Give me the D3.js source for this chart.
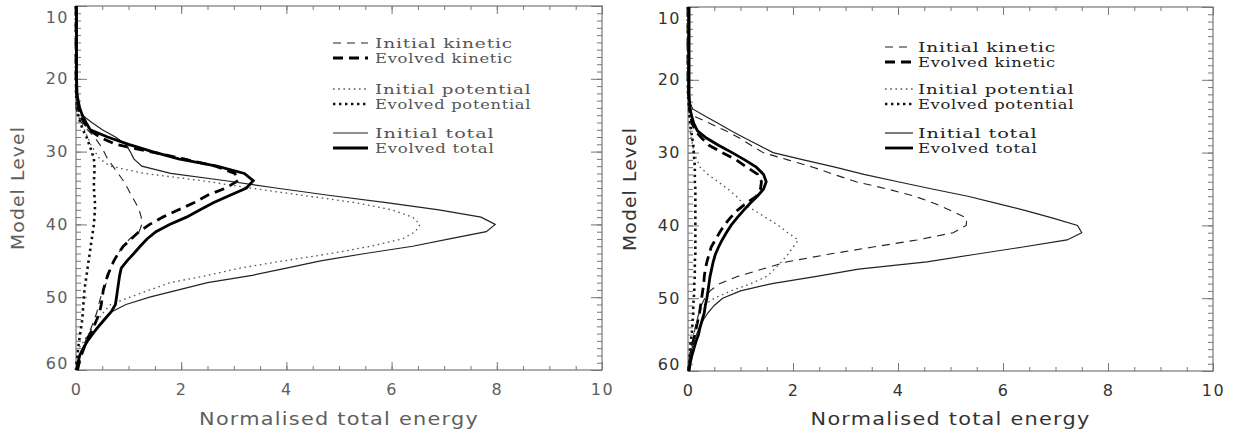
<!DOCTYPE html>
<meta charset="utf-8">
<title>Normalised total energy by model level</title>
<style>
    body { margin: 0; background: #fff; }
    svg { display: block; }
    .tick line { stroke: #777; }
    .axis path { display: none; }
</style>
<svg width="1239" height="435"></svg>
<script src="https://d3js.org/d3.v7.min.js"></script>
<script>

    // model levels (shared by every series)
    var levels = [10, 20, 22, 23, 24, 25, 26, 27, 28, 29, 30, 31, 32, 33, 34, 35, 36, 37, 38, 39, 40,
                  41, 42, 43, 44, 45, 46, 47, 48, 49, 50, 51, 52, 53, 54, 55, 56, 57, 58, 59, 60];

    // left panel
    var leftInitKinetic = [0, 0, 0, 0, 0, 0.03, 0.1, 0.22, 0.35, 0.45, 0.53, 0.6, 0.7, 0.8, 0.9, 0.98, 1.05, 1.13, 1.2, 1.24, 1.25,
                           1.2, 1.02, 0.9, 0.8, 0.72, 0.66, 0.62, 0.58, 0.52, 0.47, 0.43, 0.4, 0.35, 0.3, 0.24, 0.18, 0.12, 0.07, 0.03, 0];
    var leftEvolKinetic = [0, 0, 0.01, 0.02, 0.04, 0.08, 0.15, 0.25, 0.45, 0.75, 1.4, 2.05, 2.65, 3.02, 3.08, 2.85, 2.5, 2.25, 1.95, 1.65, 1.4,
                           1.2, 1.05, 0.9, 0.8, 0.72, 0.66, 0.6, 0.56, 0.52, 0.5, 0.48, 0.45, 0.4, 0.34, 0.27, 0.2, 0.15, 0.1, 0.06, 0.03];
    var leftInitPotential = [0, 0, 0, 0, 0.02, 0.05, 0.1, 0.16, 0.22, 0.28, 0.36, 0.45, 0.65, 1.3, 2.4, 3.3, 4.3, 5.3, 6.0, 6.4, 6.54,
                             6.45, 6.2, 5.6, 4.85, 3.95, 3.12, 2.5, 1.79, 1.4, 1.03, 0.66, 0.53, 0.43, 0.33, 0.24, 0.15, 0.06, 0.02, 0.01, 0];
    var leftEvolPotential = [0, 0, 0, 0.01, 0.02, 0.04, 0.08, 0.13, 0.2, 0.25, 0.3, 0.34, 0.35, 0.35, 0.34, 0.34, 0.35, 0.36, 0.36, 0.35, 0.34,
                             0.32, 0.3, 0.28, 0.26, 0.24, 0.22, 0.2, 0.18, 0.16, 0.15, 0.14, 0.13, 0.12, 0.1, 0.08, 0.06, 0.04, 0.03, 0.01, 0];
    var leftInitTotal = [0, 0, 0.01, 0.02, 0.05, 0.12, 0.3, 0.5, 0.75, 0.95, 1.03, 1.1, 1.25, 1.8, 2.85, 3.8, 4.8, 5.9, 6.9, 7.7, 7.97,
                         7.8, 7.1, 6.4, 5.5, 4.65, 4.0, 3.35, 2.5, 1.95, 1.4, 0.95, 0.68, 0.53, 0.42, 0.32, 0.22, 0.14, 0.07, 0.03, 0];
    var leftEvolTotal = [0.01, 0.01, 0.02, 0.04, 0.07, 0.12, 0.19, 0.27, 0.6, 1.0, 1.45, 1.95, 2.68, 3.2, 3.37, 3.24, 2.93, 2.62, 2.36, 2.1, 1.78,
                         1.52, 1.35, 1.22, 1.1, 0.97, 0.86, 0.83, 0.81, 0.79, 0.77, 0.75, 0.67, 0.55, 0.43, 0.32, 0.22, 0.14, 0.07, 0.04, 0.02];

    // right panel
    var rightInitKinetic = [0, 0, 0, 0.01, 0.02, 0.12, 0.42, 0.72, 0.98, 1.2, 1.43, 1.9, 2.38, 2.78, 3.2, 3.8, 4.32, 4.7, 5.02, 5.31, 5.3,
                            5.05, 4.36, 3.5, 2.65, 1.89, 1.42, 0.95, 0.6, 0.42, 0.32, 0.25, 0.21, 0.17, 0.14, 0.11, 0.08, 0.05, 0.03, 0.01, 0];
    var rightEvolKinetic = [0, 0, 0.01, 0.02, 0.03, 0.05, 0.08, 0.14, 0.26, 0.4, 0.65, 0.92, 1.12, 1.33, 1.4, 1.38, 1.3, 1.1, 0.93, 0.8, 0.69,
                            0.6, 0.52, 0.44, 0.4, 0.36, 0.33, 0.31, 0.3, 0.28, 0.26, 0.24, 0.22, 0.19, 0.16, 0.13, 0.1, 0.07, 0.05, 0.03, 0.01];
    var rightInitPotential = [0, 0, 0, 0, 0.01, 0.02, 0.03, 0.04, 0.06, 0.09, 0.12, 0.17, 0.23, 0.38, 0.57, 0.76, 0.92, 1.05, 1.28, 1.5, 1.72,
                              1.9, 2.1, 2.0, 1.9, 1.78, 1.65, 1.5, 1.2, 0.82, 0.5, 0.3, 0.22, 0.18, 0.14, 0.1, 0.07, 0.05, 0.03, 0.01, 0];
    var rightEvolPotential = [0, 0, 0, 0.01, 0.02, 0.03, 0.04, 0.06, 0.08, 0.1, 0.11, 0.12, 0.13, 0.13, 0.13, 0.14, 0.14, 0.14, 0.14, 0.14, 0.14,
                              0.14, 0.14, 0.14, 0.14, 0.13, 0.13, 0.13, 0.12, 0.12, 0.11, 0.1, 0.1, 0.09, 0.08, 0.07, 0.05, 0.04, 0.03, 0.02, 0.01];
    var rightInitTotal = [0, 0, 0.01, 0.03, 0.09, 0.33, 0.58, 0.82, 1.08, 1.35, 1.62, 2.2, 2.8, 3.35, 4.0, 4.65, 5.33, 5.9, 6.45, 6.95, 7.42,
                          7.5, 7.22, 6.35, 5.45, 4.55, 3.25, 2.45, 1.6, 1.0, 0.66, 0.5, 0.38, 0.29, 0.22, 0.16, 0.11, 0.07, 0.04, 0.02, 0];
    var rightEvolTotal = [0.02, 0.02, 0.02, 0.03, 0.04, 0.07, 0.11, 0.18, 0.35, 0.58, 0.84, 1.08, 1.3, 1.44, 1.49, 1.44, 1.32, 1.18, 1.05, 0.93, 0.82,
                          0.73, 0.65, 0.58, 0.52, 0.48, 0.45, 0.42, 0.4, 0.38, 0.36, 0.33, 0.31, 0.27, 0.23, 0.2, 0.15, 0.11, 0.07, 0.04, 0.02];

    var seriesNames = ["Initial kinetic", "Evolved kinetic", "Initial potential", "Evolved potential", "Initial total", "Evolved total"];
    var xTicks = [0, 2, 4, 6, 8, 10];
    var yTicks = [10, 20, 30, 40, 50, 60];
    var xLabel = "Normalised total energy";
    var yLabel = "Model Level";

    // line styles, same order as seriesNames
    var styles = [
        {width: 1.1, dash: "8,6", color: "#222"},
        {width: 2.8, dash: "10,6", color: "#000"},
        {width: 1.3, dash: "1.6,3.6", color: "#555"},
        {width: 2.6, dash: "2.4,3.6", color: "#111"},
        {width: 1.2, dash: null, color: "#222"},
        {width: 2.8, dash: null, color: "#000"}
    ];

    var svg = d3.select("svg");

    var panels = [
        {left: 76, right: 602, top: 6, bottom: 370, titleX: 18, legX: 333, legW: 35, legTextX: 375,
         legY: [43, 58, 89, 104, 133, 148], text: "#5e5e5e", legText: "#555",
         data: [leftInitKinetic, leftEvolKinetic, leftInitPotential, leftEvolPotential, leftInitTotal, leftEvolTotal]},
        {left: 688, right: 1213, top: 7, bottom: 371, titleX: 630, legX: 885, legW: 28, legTextX: 918,
         legY: [47, 62, 89, 104, 133, 148], text: "#333", legText: "#222",
         data: [rightInitKinetic, rightEvolKinetic, rightInitPotential, rightEvolPotential, rightInitTotal, rightEvolTotal]}
    ];

    panels.forEach(drawPanel);

    // stretch a text horizontally (in its own frame) so it spans `width` px, like the wide vector font
    function fitWidth(text, width) {
        var w = text.node().getComputedTextLength();
        var t = text.attr("transform") || "";
        text.attr("transform", t + " scale(" + (width / w) + ",1)");
    }

    function drawPanel(p) {
        var x = d3.scaleLinear().domain([0, 10]).range([p.left, p.right]),
            y = d3.scaleLinear().domain([10, 60]).range([p.top, p.bottom]);

        var g = svg.append("g");

        // minor ticks
        var xMinor = d3.range(0, 10.01, 0.5), yMinor = d3.range(10, 60.01, 1);
        g.append("g").attr("class", "axis").attr("transform", "translate(0," + p.bottom + ")")
            .call(d3.axisBottom(x).tickValues(xMinor).tickSize(-4).tickFormat(""));
        g.append("g").attr("class", "axis").attr("transform", "translate(0," + p.top + ")")
            .call(d3.axisTop(x).tickValues(xMinor).tickSize(-4).tickFormat(""));
        g.append("g").attr("class", "axis").attr("transform", "translate(" + p.left + ",0)")
            .call(d3.axisLeft(y).tickValues(yMinor).tickSize(-5).tickFormat(""));
        g.append("g").attr("class", "axis").attr("transform", "translate(" + p.right + ",0)")
            .call(d3.axisRight(y).tickValues(yMinor).tickSize(-5).tickFormat(""));

        // major ticks with labels
        g.append("g").attr("class", "axis").attr("transform", "translate(0," + p.bottom + ")")
            .call(d3.axisBottom(x).tickValues(xTicks).tickSize(-8).tickPadding(14).tickFormat(d3.format("d")));
        g.append("g").attr("class", "axis").attr("transform", "translate(0," + p.top + ")")
            .call(d3.axisTop(x).tickValues(xTicks).tickSize(-8).tickFormat(""));
        var yl = g.append("g").attr("class", "axis").attr("transform", "translate(" + p.left + ",0)")
            .call(d3.axisLeft(y).tickValues(yTicks).tickSize(-11).tickPadding(7).tickFormat(d3.format("d")));
        g.append("g").attr("class", "axis").attr("transform", "translate(" + p.right + ",0)")
            .call(d3.axisRight(y).tickValues(yTicks).tickSize(-11).tickFormat(""));

        g.selectAll(".axis text")
            .attr("font-family", "DejaVu Sans, sans-serif")
            .attr("font-size", 16)
            .attr("letter-spacing", 1.5)
            .attr("fill", p.text);
        // keep end labels inside the frame, as in the original
        yl.selectAll(".tick text").attr("dy", function(d) {
            return d === 10 ? "1.0em" : d === 60 ? "-0.1em" : "0.32em";
        });

        // frame
        g.append("rect")
            .attr("x", p.left).attr("y", p.top)
            .attr("width", p.right - p.left).attr("height", p.bottom - p.top)
            .attr("fill", "none").attr("stroke", "#777").attr("stroke-width", 1.2);

        // curves
        var line = d3.line()
            .x(function(d) { return x(d[1]); })
            .y(function(d) { return y(d[0]); });

        p.data.forEach(function(vals, i) {
            var pts = levels.map(function(l, k) { return [l, vals[k]]; });
            g.append("path")
                .attr("d", line(pts))
                .attr("fill", "none")
                .attr("stroke", styles[i].color)
                .attr("stroke-width", styles[i].width)
                .attr("stroke-dasharray", styles[i].dash);
        });

        // legend
        seriesNames.forEach(function(name, i) {
            var ly = p.legY[i];
            g.append("line")
                .attr("x1", p.legX).attr("x2", p.legX + p.legW)
                .attr("y1", ly).attr("y2", ly)
                .attr("stroke", styles[i].color)
                .attr("stroke-width", styles[i].width)
                .attr("stroke-dasharray", styles[i].dash);
            var t = g.append("text")
                .attr("transform", "translate(" + p.legTextX + "," + (ly + 5) + ")")
                .attr("font-family", "DejaVu Serif, serif")
                .attr("font-size", 13.5)
                .attr("letter-spacing", 0.6)
                .attr("fill", p.legText)
                .text(name);
            fitWidth(t, name.length * 9.2);
        });

        // axis titles
        var xt = g.append("text")
            .attr("transform", "translate(" + ((p.left + p.right) / 2) + ",425)")
            .attr("text-anchor", "middle")
            .attr("font-family", "DejaVu Sans, sans-serif")
            .attr("font-size", 17)
            .attr("letter-spacing", 1)
            .attr("fill", p.text)
            .text(xLabel);
        fitWidth(xt, 280);

        var yt = g.append("text")
            .attr("transform", "translate(" + (p.titleX + 6) + "," + ((p.top + p.bottom) / 2) + ") rotate(-90)")
            .attr("text-anchor", "middle")
            .attr("font-family", "DejaVu Sans, sans-serif")
            .attr("font-size", 17)
            .attr("letter-spacing", 1)
            .attr("fill", p.text)
            .text(yLabel);
        fitWidth(yt, 124);
    }

</script>
